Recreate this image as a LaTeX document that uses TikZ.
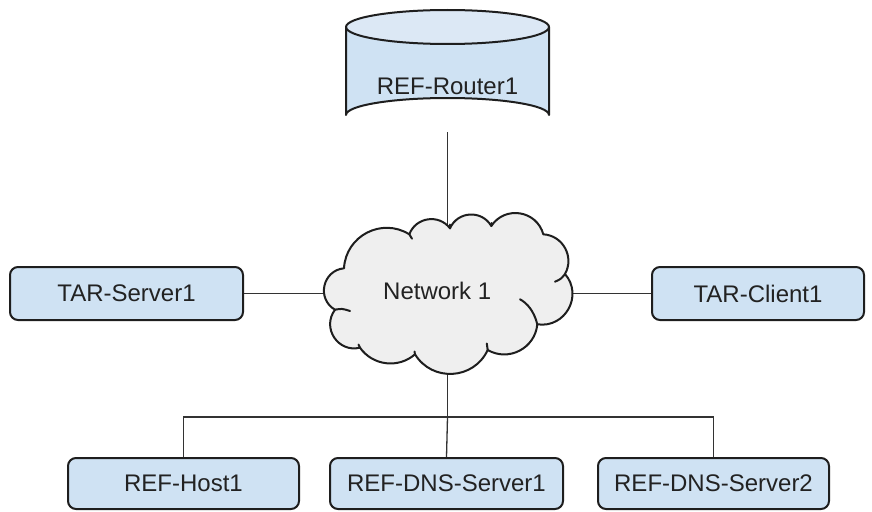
\documentclass[tikz,border=0pt]{standalone}
\usepackage{fontspec}
\setmainfont{Liberation Sans}
\definecolor{boxblue}{HTML}{CFE2F3}
\definecolor{topblue}{HTML}{DCE8F5}
\definecolor{cloudgray}{HTML}{EFEFEF}
\definecolor{edgeline}{HTML}{1E1E1E}
\definecolor{wire}{HTML}{333333}
\definecolor{label}{HTML}{222222}
\pgfdeclarelayer{background}
\pgfsetlayers{background,main}
\tikzset{
  hostbox/.style={draw=edgeline, line width=2pt, fill=boxblue, rounded corners=8pt,
    inner sep=0pt, text=label, font=\fontsize{24}{28}\selectfont},
  wireline/.style={draw=wire, line width=1.3pt},
  outline/.style={draw=edgeline, line width=2pt, line join=round, line cap=round},
  % a puff of the cloud, close to a circular arc with the given end tangent
  puff/.style 2 args={bend left=#1, looseness=#2},
}
\begin{document}
\begin{tikzpicture}[x=1pt,y=-1pt]
\useasboundingbox (0,0) rectangle (872,511);

% router drawn as a cylinder
\fill[boxblue] (346,27) -- (346,115) arc[start angle=180,end angle=360,x radius=101.5,y radius=17] -- (549,27) -- cycle;
\fill[topblue] (447.5,27) ellipse[x radius=101.5,y radius=17];
\draw[outline] (346,27) -- (346,115) arc[start angle=180,end angle=360,x radius=101.5,y radius=17] -- (549,27);
\draw[outline] (447.5,27) ellipse[x radius=101.5,y radius=17];
\node[inner sep=0pt, minimum width=203pt, minimum height=122pt] (router) at (447.5,71) {};
\node[text=label, font=\fontsize{24}{28}\selectfont] (routerlabel) at (447.5,86) {REF-Router1};

% network cloud: cusps between the puffs
\coordinate (ca) at (344,268.3);
\coordinate (cb) at (409.3,234.3);
\coordinate (cc) at (450,228.3);
\coordinate (cd) at (491.3,226);
\coordinate (ce) at (543.3,234.3);
\coordinate (cf) at (565,274);
\coordinate (cg) at (537.3,324.3);
\coordinate (ch) at (487.7,350);
\coordinate (ci) at (415,354.3);
\coordinate (cj) at (360,347.7);
\coordinate (ck) at (335,309.7);
\draw[outline, fill=cloudgray] (ca)
  to[puff={59.4}{1.128}] (cb)
  to[puff={61}{1.147}] (cc)
  to[puff={62.9}{1.170}] (cd)
  to[puff={65.7}{1.206}] (ce)
  to[puff={58}{1.11}] (cf)
  to[puff={69.7}{1.264}] (cg)
  to[puff={57.4}{1.107}] (ch)
  to[puff={61.8}{1.156}] (ci)
  to[puff={48}{1.02}] (cj)
  to[puff={70.2}{1.272}] (ck)
  to[puff={72.3}{1.306}] (ca) -- cycle;
% inner curls of the cloud
\draw[outline] (ck) .. controls (342,308.5) .. (350,311);
\draw[outline] (cj) -- (358.5,344.5);
\draw[outline] (ci) -- (414.5,351.5);
\draw[outline] (ch) -- (486.8,343.5);
\draw[outline] (cg) .. controls (534,311) and (527,303) .. (520,299.3);
\draw[outline] (cf) .. controls (561,279) .. (555,281.7);
\draw[outline] (cd) -- (491.6,223);
\draw[outline] (cc) -- (450,224.5);
\draw[outline] (cb) -- (412,238.7);
\node[inner sep=0pt, minimum width=249pt, minimum height=161pt] (net) at (447.5,293.5) {};
\node[text=label, font=\fontsize{24}{28}\selectfont] (netlabel) at (437.2,290.5) {Network 1};

% hosts
\node[hostbox, minimum width=233pt, minimum height=53pt] (srv) at (126.5,293.5) {TAR-Server1};
\node[hostbox, minimum width=212pt, minimum height=53pt] (cli) at (758,293.5) {TAR-Client1};
\node[hostbox, minimum width=231pt, minimum height=51pt] (host) at (183.5,483.5) {REF-Host1};
\node[hostbox, minimum width=233pt, minimum height=51pt] (dnsa) at (446.5,483.5) {REF-DNS-Server1};
\node[hostbox, minimum width=231pt, minimum height=51pt] (dnsb) at (713.5,483.5) {REF-DNS-Server2};

\coordinate (bus) at (447.5,417);

% connectors, kept behind the cloud and the boxes
\begin{pgfonlayer}{background}
\draw[wireline] (router.south) -- (net.center);
\draw[wireline] (srv.east) -- (cli.west);
\draw[wireline] (net.center) -- (bus);
\draw[wireline] (host.north) |- (bus) -| (dnsb.north);
\draw[wireline] (bus) -- (dnsa.north);
\end{pgfonlayer}
\end{tikzpicture}
\end{document}
